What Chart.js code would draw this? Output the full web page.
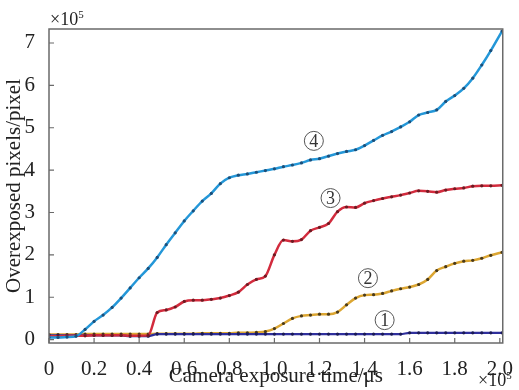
<!DOCTYPE html>
<html>
<head>
<meta charset="utf-8">
<script src="https://cdn.jsdelivr.net/npm/chart.js@4.4.0/dist/chart.umd.min.js"></script>
<style>
html,body{margin:0;padding:0;background:#fff;}
#wrap{width:519px;height:390px;position:relative;}
</style>
</head>
<body>
<div id="wrap"><canvas id="c" width="519" height="390"></canvas></div>
<script>
// Exposure time samples (×10^5 μs)
const X = [0,0.04,0.08,0.12,0.16,0.20,0.24,0.28,0.32,0.36,0.40,0.44,0.48,0.52,0.56,0.60,0.64,0.68,0.72,0.76,0.80,0.84,0.88,0.92,0.96,1.00,1.04,1.08,1.12,1.16,1.20,1.24,1.28,1.32,1.36,1.40,1.44,1.48,1.52,1.56,1.60,1.64,1.68,1.72,1.76,1.80,1.84,1.88,1.92,1.96,2.01];
// Overexposed pixels (×10^5)
const series1 = [0.10,0.10,0.10,0.10,0.10,0.10,0.10,0.10,0.10,0.08,0.08,0.08,0.13,0.13,0.13,0.13,0.13,0.13,0.13,0.13,0.13,0.13,0.13,0.13,0.13,0.13,0.13,0.13,0.13,0.13,0.13,0.13,0.13,0.13,0.13,0.13,0.13,0.13,0.13,0.13,0.16,0.16,0.16,0.16,0.16,0.16,0.16,0.16,0.16,0.16,0.16];
const series2 = [0.12,0.12,0.12,0.12,0.13,0.13,0.13,0.13,0.13,0.13,0.13,0.13,0.14,0.14,0.14,0.14,0.14,0.15,0.15,0.15,0.15,0.16,0.16,0.17,0.19,0.26,0.38,0.50,0.56,0.58,0.60,0.60,0.65,0.82,0.98,1.05,1.06,1.09,1.15,1.20,1.24,1.30,1.42,1.63,1.72,1.80,1.85,1.87,1.92,1.99,2.06];
const series3 = [0.08,0.08,0.09,0.09,0.09,0.10,0.10,0.10,0.10,0.09,0.09,0.10,0.64,0.70,0.77,0.90,0.93,0.93,0.95,0.98,1.04,1.12,1.30,1.42,1.50,2.00,2.35,2.32,2.36,2.57,2.65,2.74,3.02,3.13,3.12,3.22,3.28,3.33,3.37,3.41,3.46,3.51,3.50,3.48,3.53,3.56,3.58,3.62,3.63,3.63,3.64];
const series4 = [0.05,0.05,0.06,0.08,0.24,0.43,0.58,0.76,0.98,1.22,1.46,1.68,1.94,2.24,2.52,2.80,3.04,3.27,3.45,3.68,3.82,3.88,3.91,3.95,3.99,4.03,4.08,4.12,4.17,4.24,4.27,4.33,4.39,4.44,4.48,4.58,4.70,4.82,4.91,5.02,5.14,5.30,5.36,5.42,5.62,5.76,5.93,6.17,6.48,6.82,7.28];
// Tick labels
const xTicks = [0,0.2,0.4,0.6,0.8,1.0,1.2,1.4,1.6,1.8,2.0];
const xTickLabels = ['0','0.2','0.4','0.6','0.8','1.0','1.2','1.4','1.6','1.8','2.0'];
const yTicks = [0,1,2,3,4,5,6,7];
const yTickLabels = ['0','1','2','3','4','5','6','7'];
// Curve labels (circled numbers) at data coordinates
const curveLabels = [
  {text:'1', x:1.489, y:0.46},
  {text:'2', x:1.415, y:1.45},
  {text:'3', x:1.249, y:3.34},
  {text:'4', x:1.175, y:4.69}
];

const SERIF = '"Liberation Serif","DejaVu Serif","Times New Roman",serif';
const pts = arr => arr.map((v,i)=>({x:X[i], y:v}));

const framePlugin = {
  id:'frame',
  afterDraw(chart){
    const {ctx, chartArea:a, scales} = chart;
    ctx.save();
    ctx.strokeStyle = '#6a6a6a';
    ctx.lineWidth = 1.5;
    ctx.strokeRect(a.left, a.top, a.right-a.left, a.bottom-a.top);
    ctx.lineWidth = 1.2;
    ctx.beginPath();
    xTicks.forEach(t=>{
      const px = scales.x.getPixelForValue(t);
      ctx.moveTo(px, a.bottom); ctx.lineTo(px, a.bottom-5);
    });
    yTicks.forEach(t=>{
      const py = scales.y.getPixelForValue(t);
      ctx.moveTo(a.left, py); ctx.lineTo(a.left+5, py);
    });
    ctx.stroke();
    // exponent labels
    ctx.fillStyle = '#222';
    ctx.textBaseline = 'alphabetic';
    ctx.textAlign = 'left';
    ctx.font = '18px ' + SERIF;
    ctx.fillText('×10', a.left+1, 25);
    let w = ctx.measureText('×10').width;
    ctx.font = '11px ' + SERIF;
    ctx.fillText('5', a.left+1+w, 18);
    ctx.font = '18px ' + SERIF;
    ctx.fillText('×10', 478, 386);
    w = ctx.measureText('×10').width;
    ctx.font = '11px ' + SERIF;
    ctx.fillText('5', 478+w, 379);
    // circled labels
    curveLabels.forEach(l=>{
      const cx = scales.x.getPixelForValue(l.x);
      const cy = scales.y.getPixelForValue(l.y);
      ctx.beginPath();
      ctx.strokeStyle = '#555';
      ctx.lineWidth = 1;
      ctx.arc(cx, cy, 9.5, 0, Math.PI*2);
      ctx.stroke();
      ctx.font = '18px ' + SERIF;
      ctx.textAlign = 'center';
      ctx.textBaseline = 'middle';
      ctx.fillStyle = '#333';
      ctx.fillText(l.text, cx, cy+1);
    });
    ctx.restore();
  }
};

const mk = (label, data, color, dot, order, bw) => ({
  label, data: pts(data), borderColor: color, backgroundColor: color,
  borderWidth: bw, pointRadius: 1.6, pointBorderWidth: 0,
  pointBackgroundColor: dot, cubicInterpolationMode: 'monotone', order, fill:false
});

new Chart(document.getElementById('c'), {
  type:'line',
  data:{
    datasets:[
      mk('4', series4, '#2497d8', '#1c4f7a', 1, 2.5),
      mk('3', series3, '#d22b3d', '#6e1a22', 2, 2.5),
      mk('1', series1, '#2f2f9c', '#1a1a55', 3, 2.2),
      mk('2', series2, '#dca632', '#4a3a1a', 4, 2.5)
    ]
  },
  options:{
    responsive:false,
    animation:false,
    events:[],
    layout:{padding:{left:0, right:9, top:29, bottom:0}},
    plugins:{legend:{display:false}, tooltip:{enabled:false}},
    scales:{
      x:{
        type:'linear', min:0, max:2.013,
        afterBuildTicks(s){ s.ticks = xTicks.map(v=>({value:v})); },
        afterFit(s){ s.height = 47; },
        grid:{display:false},
        border:{display:false},
        ticks:{
          padding:6,
          color:'#222',
          font:{family:SERIF, size:21},
          maxRotation:0, autoSkip:false,
          callback(v){ const i = xTicks.findIndex(t=>Math.abs(t-v)<1e-9); return i>=0 ? xTickLabels[i] : ''; }
        },
        title:{display:true, text:'Camera exposure time/μs', color:'#222',
          font:{family:SERIF, size:21}, padding:{top:0, bottom:1}}
      },
      y:{
        min:-0.08, max:7.33,
        afterBuildTicks(s){ s.ticks = yTicks.map(v=>({value:v})); },
        afterFit(s){ s.width = 49; },
        grid:{display:false},
        border:{display:false},
        ticks:{
          padding:6,
          color:'#222',
          font:{family:SERIF, size:21},
          autoSkip:false,
          callback(v){ const i = yTicks.indexOf(v); return i>=0 ? yTickLabels[i] : ''; }
        },
        title:{display:true, text:'Overexposed pixels/pixel', color:'#222',
          font:{family:SERIF, size:21}, padding:{top:2, bottom:0}}
      }
    }
  },
  plugins:[framePlugin]
});
</script>
</body>
</html>
